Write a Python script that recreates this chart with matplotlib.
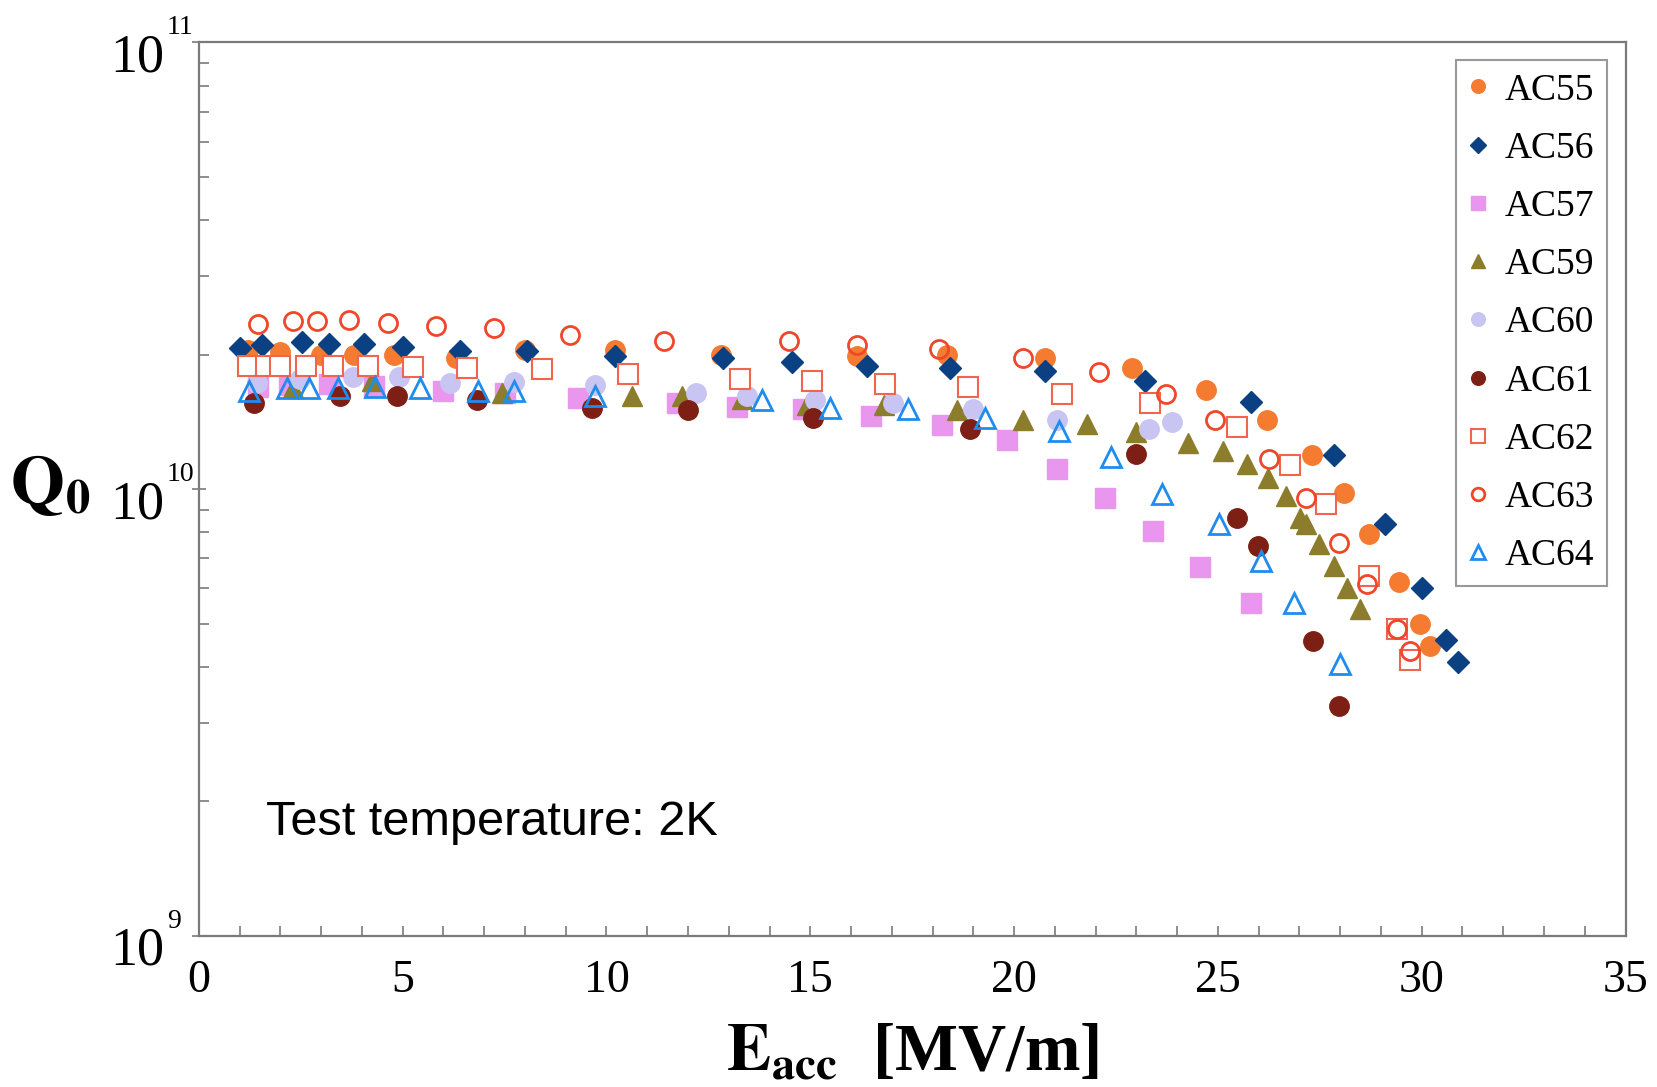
import matplotlib
matplotlib.use("Agg")
import matplotlib.pyplot as plt
from matplotlib.ticker import FixedLocator, LogLocator, NullFormatter, MultipleLocator
from matplotlib.transforms import ScaledTranslation

plt.rcParams['mathtext.fontset'] = 'stix'

series_names = ["AC55", "AC56", "AC57", "AC59", "AC60", "AC61", "AC62", "AC63", "AC64"]

ac55_x = [1.2, 2.0, 3.0, 3.8, 4.8, 6.3, 8.0, 10.2, 12.8, 16.15, 18.35, 20.75, 22.9, 24.7, 26.2, 27.3, 28.1, 28.7, 29.45, 29.95, 30.2]
ac55_q = [2.05e10, 2.03e10, 2.0e10, 2.0e10, 2.0e10, 1.97e10, 2.05e10, 2.05e10, 2.0e10, 1.99e10, 2.0e10, 1.97e10, 1.87e10, 1.67e10, 1.43e10, 1.19e10, 9.8e9, 7.95e9, 6.2e9, 5.0e9, 4.46e9]

ac56_x = [1.0, 1.55, 2.54, 3.2, 4.04, 5.0, 6.4, 8.05, 10.2, 12.86, 14.55, 16.4, 18.43, 20.77, 23.2, 25.8, 27.85, 29.1, 30.0, 30.6, 30.9]
ac56_q = [2.07e10, 2.1e10, 2.14e10, 2.11e10, 2.11e10, 2.08e10, 2.04e10, 2.04e10, 1.99e10, 1.97e10, 1.93e10, 1.89e10, 1.87e10, 1.84e10, 1.745e10, 1.565e10, 1.19e10, 8.36e9, 6.0e9, 4.6e9, 4.1e9]

ac57_x = [1.45, 2.2, 3.2, 4.3, 6.0, 7.5, 9.3, 11.72, 13.2, 14.83, 16.5, 18.23, 19.83, 21.05, 22.22, 23.41, 24.55, 25.8]
ac57_q = [1.69e10, 1.71e10, 1.72e10, 1.70e10, 1.66e10, 1.64e10, 1.60e10, 1.56e10, 1.53e10, 1.51e10, 1.46e10, 1.39e10, 1.29e10, 1.11e10, 9.53e9, 8.06e9, 6.71e9, 5.56e9]

ac59_x = [2.3, 4.25, 7.44, 10.63, 11.85, 13.33, 14.91, 16.8, 18.59, 20.22, 21.78, 23.0, 24.27, 25.12, 25.72, 26.24, 26.68, 27.02, 27.17, 27.48, 27.85, 28.16, 28.49]
ac59_q = [1.68e10, 1.75e10, 1.64e10, 1.62e10, 1.62e10, 1.59e10, 1.54e10, 1.54e10, 1.50e10, 1.43e10, 1.40e10, 1.34e10, 1.27e10, 1.22e10, 1.14e10, 1.06e10, 9.64e9, 8.63e9, 8.35e9, 7.53e9, 6.72e9, 6.02e9, 5.40e9]

ac60_x = [1.43, 2.49, 3.79, 4.9, 6.17, 7.73, 9.72, 12.19, 13.46, 15.12, 17.03, 19.0, 21.05, 23.31, 23.88]
ac60_q = [1.73e10, 1.76e10, 1.78e10, 1.78e10, 1.73e10, 1.74e10, 1.71e10, 1.64e10, 1.62e10, 1.58e10, 1.56e10, 1.51e10, 1.43e10, 1.36e10, 1.41e10]

ac61_x = [1.35, 3.47, 4.87, 6.82, 9.64, 12.0, 15.06, 18.93, 23.0, 25.46, 25.98, 27.33, 27.97]
ac61_q = [1.56e10, 1.62e10, 1.62e10, 1.58e10, 1.52e10, 1.50e10, 1.44e10, 1.36e10, 1.20e10, 8.63e9, 7.45e9, 4.58e9, 3.27e9]

ac62_x = [1.21, 1.65, 2.0, 2.64, 3.29, 4.15, 5.26, 6.58, 8.42, 10.53, 13.27, 15.04, 16.83, 18.87, 21.18, 23.33, 25.46, 26.78, 27.64, 28.7, 29.4, 29.71]
ac62_q = [1.89e10, 1.89e10, 1.89e10, 1.89e10, 1.89e10, 1.89e10, 1.88e10, 1.87e10, 1.86e10, 1.81e10, 1.76e10, 1.745e10, 1.72e10, 1.69e10, 1.63e10, 1.56e10, 1.38e10, 1.13e10, 9.27e9, 6.4e9, 4.87e9, 4.15e9]

ac63_x = [1.45, 2.31, 2.90, 3.68, 4.64, 5.83, 7.23, 9.10, 11.41, 14.47, 16.15, 18.17, 20.22, 22.09, 23.72, 24.94, 26.26, 27.17, 27.97, 28.65, 29.40, 29.71]
ac63_q = [2.34e10, 2.38e10, 2.38e10, 2.39e10, 2.36e10, 2.32e10, 2.29e10, 2.21e10, 2.15e10, 2.15e10, 2.10e10, 2.06e10, 1.97e10, 1.83e10, 1.63e10, 1.43e10, 1.17e10, 9.53e9, 7.57e9, 6.12e9, 4.87e9, 4.34e9]

ac64_x = [1.22, 2.16, 2.70, 3.42, 4.33, 5.42, 6.84, 7.73, 9.72, 13.82, 15.48, 17.4, 19.29, 21.1, 22.37, 23.63, 25.02, 26.06, 26.86, 28.0]
ac64_q = [1.66e10, 1.68e10, 1.68e10, 1.68e10, 1.69e10, 1.68e10, 1.66e10, 1.66e10, 1.62e10, 1.58e10, 1.52e10, 1.51e10, 1.44e10, 1.35e10, 1.18e10, 9.76e9, 8.35e9, 6.90e9, 5.56e9, 4.06e9]

x_ticks = [0, 5, 10, 15, 20, 25, 30, 35]
y_ticks = [1e9, 1e10, 1e11]
y_tick_base = ['10', '10', '10']
y_tick_exp = ['9', '10', '11']

fig = plt.figure(figsize=(16.57, 10.87), dpi=100)
ax = fig.add_axes([0.120, 0.139, 0.861, 0.822])

styles = [
    dict(marker='o', ms=14, color='#F47B30', mec='#F47B30', mfc='#F47B30'),
    dict(marker='D', ms=11, color='#0B4182', mec='#0B4182', mfc='#0B4182'),
    dict(marker='s', ms=14, color='#E996EE', mec='#E996EE', mfc='#E996EE'),
    dict(marker='^', ms=15, color='#8C7D2D', mec='#8C7D2D', mfc='#8C7D2D'),
    dict(marker='o', ms=14, color='#C9C5F2', mec='#C9C5F2', mfc='#C9C5F2'),
    dict(marker='o', ms=14, color='#7E1F15', mec='#7E1F15', mfc='#7E1F15'),
    dict(marker='s', ms=14, color='#F0654E', mec='#F0654E', mfc='white', mew=1.5),
    dict(marker='o', ms=13, color='#F0472A', mec='#F0472A', mfc='none', mew=2.0),
    dict(marker='^', ms=14, color='#1F8CF0', mec='#1F8CF0', mfc='none', mew=2.0),
]
data = [(ac55_x, ac55_q), (ac56_x, ac56_q), (ac57_x, ac57_q), (ac59_x, ac59_q),
        (ac60_x, ac60_q), (ac61_x, ac61_q), (ac62_x, ac62_q), (ac63_x, ac63_q),
        (ac64_x, ac64_q)]

for name, (xs, qs), st in zip(series_names, data, styles):
    ax.plot(xs, qs, linestyle='none', label=name, **st)

ax.set_yscale('log')
ax.set_xlim(0, 35)
ax.set_ylim(1e9, 1e11)

ax.xaxis.set_major_locator(FixedLocator(x_ticks))
ax.xaxis.set_minor_locator(MultipleLocator(1))
ax.set_xticklabels([str(t) for t in x_ticks], fontfamily='Liberation Serif', fontsize=33)
ax.yaxis.set_major_locator(FixedLocator(y_ticks))
ax.yaxis.set_minor_locator(LogLocator(base=10, subs=range(2, 10)))
ax.yaxis.set_minor_formatter(NullFormatter())

frame_c = '#7a7a7a'
for side in ax.spines.values():
    side.set_color(frame_c)
    side.set_linewidth(1.6)

ax.tick_params(axis='x', which='both', direction='in', length=7, width=1.2, color=frame_c, pad=17, top=False)
ax.tick_params(axis='y', which='major', direction='inout', length=10, width=1.2, color=frame_c, pad=20, right=False)
ax.tick_params(axis='y', which='minor', direction='in', length=7, width=1.2, color=frame_c, right=False)

ax.set_yticklabels(y_tick_base, fontfamily='Liberation Serif', fontsize=39)
down = ScaledTranslation(0, -7 / 72, fig.dpi_scale_trans)
for lab in ax.get_yticklabels():
    lab.set_transform(lab.get_transform() + down)

for val, ex in zip(y_ticks, y_tick_exp):
    ax.annotate(ex, xy=(-0.0225, val), xycoords=('axes fraction', 'data'),
                xytext=(0, 6), textcoords='offset points', ha='left', va='baseline',
                fontfamily='Liberation Serif', fontsize=20, annotation_clip=False)

ax.set_xlabel(r'$\mathbf{E}_{\mathbf{acc}}$  [MV/m]', fontfamily='Liberation Serif',
              fontweight='bold', fontsize=48)
ax.xaxis.set_label_coords(0.5, -0.098)
ax.set_ylabel(r'$\mathbf{Q}_{\mathbf{0}}$', fontsize=50, rotation=0, ha='center', va='center')
ax.yaxis.set_label_coords(-0.104, 0.505)

ax.text(0.047, 0.113, 'Test temperature: 2K', transform=ax.transAxes,
        fontfamily='Liberation Sans', fontsize=35, ha='left', va='baseline')

leg = ax.legend(loc='upper right', bbox_to_anchor=(0.987, 0.980), borderaxespad=0,
                prop={'family': 'Liberation Serif', 'size': 27},
                markerscale=0.7, handlelength=0.5, handletextpad=0.45,
                labelspacing=0.633, borderpad=0.34, fancybox=False, numpoints=1)
leg.get_frame().set_edgecolor('#808080')
leg.get_frame().set_linewidth(1.5)

fig.savefig('out.png', dpi=100)
